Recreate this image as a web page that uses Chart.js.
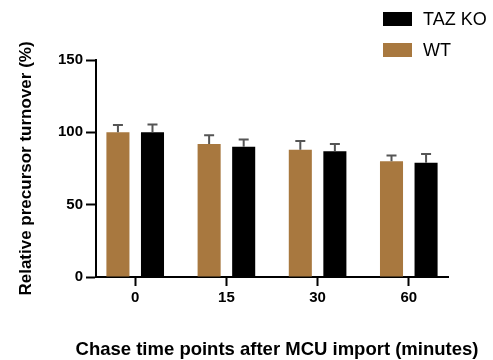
<!DOCTYPE html>
<html>
    <head>
        <meta charset="utf-8">
        <title>Relative precursor turnover</title>
        <script src="https://cdn.jsdelivr.net/npm/chart.js"></script>
        <style>
            body {
                margin: 0;
                background: #fff;
            }
            #wrap {
                width: 493px;
                height: 360px;
            }
        </style>
    </head>
    <body>
        <div id="wrap">
            <canvas id="turnoverChart" width="493" height="360"></canvas>
        </div>
        <script>
            // data
            const timeLabels = ["0", "15", "30", "60"];
            const seriesNames = ["WT", "TAZ KO"];
            const wtValues = [100, 92, 88, 80];
            const wtErr = [5, 6, 6, 4];
            const koValues = [100, 90, 87, 79];
            const koErr = [5.5, 5, 5, 6];
            const xTitle = "Chase time points after MCU import (minutes)";

            const brown = "#a8783f";
            const fontFam = "'Liberation Sans', Arial, sans-serif";

            const toPoints = vals => vals.map((v, i) => ({ x: i, y: v }));

            // upper error bars, one side only
            const errorBars = {
                id: "errorBars",
                afterDatasetsDraw(chart) {
                    const ctx = chart.ctx;
                    const yScale = chart.scales.y;
                    ctx.save();
                    ctx.strokeStyle = "#555";
                    ctx.lineWidth = 2;
                    chart.data.datasets.forEach((ds, i) => {
                        const meta = chart.getDatasetMeta(i);
                        meta.data.forEach((bar, j) => {
                            const top = yScale.getPixelForValue(ds.data[j].y + ds.err[j]);
                            ctx.beginPath();
                            ctx.moveTo(bar.x, bar.y);
                            ctx.lineTo(bar.x, top);
                            ctx.moveTo(bar.x - 5, top);
                            ctx.lineTo(bar.x + 5, top);
                            ctx.stroke();
                        });
                    });
                    ctx.restore();
                }
            };

            // legend in the top right corner (TAZ KO first) + the x title,
            // which is wider than the axis so chart.js would squeeze it
            const extras = {
                id: "extras",
                afterDraw(chart) {
                    const ctx = chart.ctx;
                    const items = chart.data.datasets.slice().reverse();
                    ctx.save();
                    ctx.font = "18px " + fontFam;
                    ctx.textBaseline = "middle";
                    items.forEach((ds, k) => {
                        const y = 12 + k * 31;
                        ctx.fillStyle = ds.backgroundColor;
                        ctx.fillRect(383, y, 29, 14);
                        ctx.fillStyle = "#000";
                        ctx.fillText(ds.label, 423, y + 8);
                    });
                    ctx.font = "bold 18.5px " + fontFam;
                    ctx.textAlign = "center";
                    ctx.fillText(xTitle, 277, 350);
                    ctx.restore();
                }
            };

            new Chart(document.getElementById("turnoverChart").getContext("2d"), {
                type: "bar",
                data: {
                    datasets: [
                        { label: seriesNames[0], data: toPoints(wtValues), err: wtErr, backgroundColor: brown },
                        { label: seriesNames[1], data: toPoints(koValues), err: koErr, backgroundColor: "#000" }
                    ]
                },
                options: {
                    responsive: false,
                    animation: false,
                    categoryPercentage: 0.758,
                    barPercentage: 0.667,
                    layout: { padding: { left: 0, top: 60, right: 45, bottom: 0 } },
                    plugins: {
                        legend: { display: false },
                        tooltip: { enabled: false }
                    },
                    scales: {
                        x: {
                            type: "linear",
                            min: -0.43,
                            max: 3.43,
                            offset: false,
                            afterBuildTicks: scale => {
                                scale.ticks = timeLabels.map((t, i) => ({ value: i }));
                            },
                            afterFit: scale => { scale.height = 83; },
                            ticks: {
                                callback: v => timeLabels[v],
                                color: "#000",
                                padding: 3,
                                maxRotation: 0,
                                font: { family: fontFam, size: 15, weight: "bold" }
                            },
                            grid: {
                                offset: false,
                                drawOnChartArea: false,
                                tickLength: 9,
                                tickColor: "#000",
                                tickWidth: 2
                            },
                            border: { color: "#000", width: 2 }
                        },
                        y: {
                            min: 0,
                            max: 150,
                            afterFit: scale => { scale.width = 96; },
                            ticks: {
                                stepSize: 50,
                                color: "#000",
                                padding: 3,
                                font: { family: fontFam, size: 15, weight: "bold" }
                            },
                            grid: {
                                drawOnChartArea: false,
                                tickLength: 10,
                                tickColor: "#000",
                                tickWidth: 2
                            },
                            border: { color: "#000", width: 2 },
                            title: {
                                display: true,
                                text: "Relative precursor turnover (%)",
                                color: "#000",
                                padding: { top: 16, bottom: 0 },
                                font: { family: fontFam, size: 17, weight: "bold" }
                            }
                        }
                    }
                },
                plugins: [errorBars, extras]
            });
        </script>
    </body>
</html>
